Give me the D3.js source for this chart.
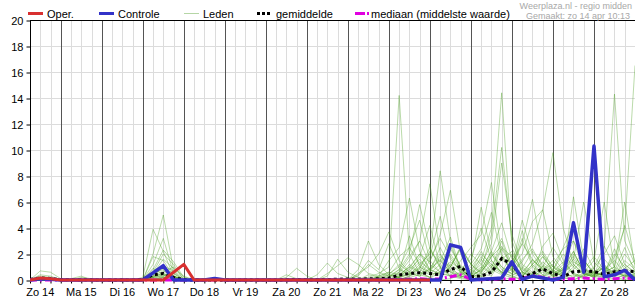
<!DOCTYPE html>
<head>
    <meta charset="UTF-8" />
    <style>
        body {
            margin: 0;
            padding: 0;
            background: #fff;
        }

        svg {
            display: block;
            font-family: Arial, "Liberation Sans", sans-serif;
        }

        .grid {
            stroke: #dcdcdc;
            stroke-width: 1px;
        }

        .dayline {
            stroke: #555;
            stroke-width: 1px;
        }

        .lid {
            fill: none;
            stroke: #4a9e1f;
            stroke-opacity: 0.38;
            stroke-width: 1px;
        }
    </style>
    <title>Neerslag pluim</title>
</head>

<svg width="635" height="300"></svg>
<script src="https://d3js.org/d3.v7.min.js"></script>

<script>
    // dag-labels onder de as
    var dagen = ["Zo 14", "Ma 15", "Di 16", "Wo 17", "Do 18", "Vr 19", "Za 20",
        "Zo 21", "Ma 22", "Di 23", "Wo 24", "Do 25", "Vr 26", "Za 27", "Zo 28"]
    var yTicks = [0, 2, 4, 6, 8, 10, 12, 14, 16, 18, 20]

    // operationele run (loopt t/m wo 24 00u), 6-uurlijks vanaf zo 14 06u
    var oper = [0, 0.15, 0.1, 0, 0, 0, 0, 0, 0, 0, 0, 0, 0, 0, 0.6, 1.2, 0, 0, 0, 0,
        0, 0, 0, 0, 0, 0, 0, 0, 0, 0, 0, 0, 0, 0, 0, 0, 0, 0, 0, 0]

    var controle = [0, 0.1, 0.05, 0, 0, 0, 0, 0, 0, 0, 0, 0, 0.55, 1.1, 0, 0, 0, 0, 0.12, 0,
        0, 0, 0, 0, 0, 0, 0, 0, 0, 0, 0, 0, 0, 0, 0, 0, 0, 0, 0, 0,
        0, 2.7, 2.5, 0, 0.05, 0.1, 0.15, 1.4, 0.05, 0.3, 0.15, 0, 0.2, 4.4, 0.6, 10.3, 0.25, 0.4, 0.75, 0]

    var gemiddelde = [0.05, 0.15, 0.12, 0.02, 0.01, 0.02, 0.01, 0, 0, 0.01, 0, 0.05, 0.4, 0.5, 0.2, 0.03, 0, 0, 0, 0,
        0, 0, 0, 0, 0, 0.02, 0.04, 0.01, 0.02, 0.04, 0.06, 0.08, 0.06, 0.1, 0.1, 0.15, 0.38, 0.5, 0.56, 0.5,
        0.4, 0.8, 1.05, 0.25, 0.3, 0.6, 1.65, 1.2, 0.2, 0.5, 0.85, 0.5, 0.25, 0.64, 0.7, 0.64, 0.45, 0.64, 0.7, 0.64]

    var mediaan = [0, 0, 0, 0, 0, 0, 0, 0, 0, 0, 0, 0, 0, 0, 0, 0, 0, 0, 0, 0,
        0, 0, 0, 0, 0, 0, 0, 0, 0, 0, 0, 0, 0, 0, 0, 0.02, 0.05, 0.05, 0.1, 0.05,
        0.1, 0.25, 0.4, 0.05, 0.02, 0.05, 0.1, 0.05, 0.1, 0.35, 0.2, 0.1, 0.05, 0.1, 0.15, 0.1, 0.05, 0.1, 0.15, 0.1]

    // ensemble leden
    var leden = [
        [0, 0.7, 0.6, 0.1, 0, 0, 0, 0, 0, 0, 0, 0, 2.0, 5.0, 0.8, 0.1, 0, 0, 0, 0, 0, 0, 0, 0, 0, 0, 0, 0, 0, 0, 0, 0, 0, 0.2, 0.5, 1.0, 14.2, 2.0, 0.5, 0.8, 1.5, 0.6, 0.2, 0, 0.4, 1.2, 0.6, 0.3, 0, 0.5, 1.8, 0.8, 0.2, 0, 0.4, 0.6, 1.2, 0.3, 0, 0.5],
        [0, 0.4, 0.3, 0, 0, 0, 0, 0, 0, 0, 0, 0.2, 3.9, 2.2, 0.3, 0, 0, 0, 0, 0, 0, 0, 0, 0, 0, 0, 0, 0, 0, 0, 0, 0, 0, 0, 0.3, 0.6, 1.8, 2.5, 1.2, 2.0, 8.4, 3.0, 0.5, 0.2, 0.8, 2.2, 1.0, 0.4, 0.6, 1.5, 0.9, 0.3, 0.8, 2.2, 0.6, 0.2, 0, 0.4, 1.5, 0.8],
        [0, 0.2, 0.1, 0, 0, 0, 0, 0, 0, 0, 0, 0, 1.2, 3.2, 0.5, 0, 0, 0, 0, 0, 0, 0, 0, 0, 0, 0, 0, 0, 0, 0, 0, 0, 0, 0, 0, 0.2, 0.5, 1.5, 3.0, 1.2, 0.6, 2.0, 0.8, 0.3, 1.5, 4.0, 14.4, 2.5, 0.6, 0.2, 0.8, 1.5, 0.4, 0, 0.3, 0.7, 0.2, 0.6, 0.3, 0.2],
        [0, 0.1, 0.2, 0, 0, 0, 0, 0, 0, 0, 0, 0, 0.8, 2.3, 1.4, 0.2, 0, 0, 0, 0, 0, 0, 0, 0, 0, 0, 0, 0, 0, 0, 0, 0, 0, 0, 0, 0, 0.3, 0.8, 1.6, 0.7, 2.5, 1.0, 0.3, 0.1, 0.6, 1.8, 3.2, 1.1, 2.0, 4.5, 5.4, 9.8, 4.0, 1.2, 0.5, 0.2, 0.8, 1.5, 0.6, 0.3],
        [0, 0, 0, 0, 0, 0.2, 0.1, 0, 0, 0, 0, 0, 1.8, 1.5, 0.3, 0, 0, 0, 0, 0, 0, 0, 0, 0, 0, 0, 0, 0, 0, 0, 0, 0, 0, 0, 0, 0.4, 1.2, 0.6, 0.3, 1.5, 3.2, 1.8, 0.6, 0.4, 1.0, 0.5, 1.6, 0.8, 0.3, 1.2, 2.2, 1.0, 0.4, 2.0, 0.8, 0.3, 2.5, 14.3, 3.0, 1.2],
        [0, 0.2, 0.1, 0, 0, 0, 0, 0, 0, 0, 0, 0, 0.6, 2.0, 1.2, 0, 0, 0, 0, 0, 0, 0, 0, 0, 0, 0.4, 0.1, 0, 0, 0, 0, 0, 0, 0, 0, 0, 0.4, 1.0, 0.6, 0.2, 0.9, 2.4, 1.1, 0.6, 2.2, 1.0, 0.5, 1.4, 2.8, 1.6, 0.7, 0.4, 1.2, 3.0, 1.5, 0.6, 0.4, 1.8, 4.0, 16.5],
        [0, 0, 0, 0, 0, 0, 0, 0, 0, 0, 0, 0, 0.5, 1.6, 0.9, 0.3, 0, 0, 0, 0, 0, 0, 0, 0, 0, 0.2, 0.9, 0.3, 0, 0, 0, 0, 0.8, 3.0, 1.2, 0.4, 0.2, 0.9, 2.0, 1.4, 3.5, 6.9, 2.0, 0.4, 0.2, 1.0, 2.5, 1.8, 0.6, 0.3, 1.0, 2.5, 1.2, 0.4, 0.2, 0.6, 1.0, 0.4, 0.8, 0.2],
        [0, 0, 0, 0, 0, 0, 0, 0, 0, 0, 0, 0, 0.3, 1.1, 0.7, 0, 0, 0, 0, 0, 0, 0, 0, 0, 0, 0, 0, 0, 0.4, 1.3, 0.5, 0.2, 0, 0, 0.3, 1.5, 2.5, 6.3, 2.2, 0.8, 0.5, 1.2, 0.6, 0.2, 0.9, 3.5, 10.2, 3.0, 1.0, 0.5, 0.3, 0.8, 2.0, 1.0, 0.4, 0.3, 0.6, 2.0, 1.0, 0.4],
        [0, 0, 0, 0, 0.1, 0.3, 0, 0, 0, 0, 0, 0, 0.4, 0.9, 0.5, 0, 0, 0, 0, 0, 0, 0, 0, 0, 0, 0, 0, 0, 0, 0.3, 1.6, 0.6, 0.2, 0, 0, 0.3, 0.8, 2.0, 5.8, 2.4, 1.0, 0.4, 0.2, 0.8, 1.6, 0.6, 2.4, 1.0, 2.8, 6.2, 2.0, 0.6, 0.3, 1.0, 2.4, 0.8, 0.2, 0.5, 1.2, 0.6],
        [0, 0, 0, 0, 0, 0, 0, 0, 0, 0, 0, 0, 0.2, 0.6, 1.0, 0.2, 0, 0, 0, 0, 0, 0, 0, 0, 0, 0, 0, 0, 0, 0, 0, 0, 0.3, 1.2, 0.6, 0.3, 0.6, 1.8, 3.0, 7.4, 2.0, 0.8, 0.4, 1.2, 0.6, 2.0, 0.8, 0.5, 1.4, 2.8, 5.4, 1.8, 0.7, 6.4, 1.5, 0.5, 0.3, 0.8, 0.4, 0.2],
        [0, 0, 0, 0, 0, 0, 0, 0, 0, 0, 0, 0, 0.9, 0.4, 0.2, 0, 0, 0, 0, 0, 0, 0, 0, 0, 0, 0, 0, 0, 0, 0, 0, 0, 0.5, 1.0, 2.0, 3.7, 1.5, 0.6, 1.8, 4.2, 1.0, 0.3, 0.6, 2.0, 1.2, 0.5, 1.8, 0.9, 0.4, 1.6, 0.8, 0.3, 1.0, 2.2, 0.6, 1.5, 6.0, 0.8, 0.3, 0.5],
        [0, 0, 0, 0, 0, 0, 0, 0, 0, 0, 0, 0, 0.3, 0.7, 0.2, 0, 0, 0, 0, 0, 0, 0, 0, 0, 0, 0, 0, 0, 0, 0, 0, 0, 0, 0, 0, 0, 0.2, 0.5, 1.0, 0.6, 1.8, 1.0, 2.6, 1.2, 2.4, 5.2, 1.8, 0.7, 0.3, 1.2, 2.0, 1.0, 0.5, 1.6, 6.0, 1.4, 0.6, 1.0, 6.0, 1.0],
        [0, 0.3, 0.2, 0, 0, 0, 0, 0, 0, 0, 0, 0, 0.2, 0.5, 0.2, 0, 0, 0, 0, 0, 0, 0, 0, 0, 0, 0, 0, 0, 0, 0, 0, 0, 0, 0, 0.2, 0.5, 1.0, 2.5, 4.6, 1.5, 0.6, 0.3, 1.5, 2.5, 3.5, 7.5, 2.0, 0.6, 0.3, 1.0, 1.8, 0.7, 0.4, 1.4, 0.9, 0.3, 1.6, 0.7, 2.5, 0.6],
        [0, 0, 0, 0, 0, 0, 0, 0, 0, 0.1, 0, 0, 0, 0.3, 0.6, 0, 0, 0, 0, 0, 0, 0, 0, 0, 0, 0, 0, 0, 0, 0, 0, 0, 0, 0, 0, 0.2, 0.8, 0.4, 0.9, 2.2, 1.4, 3.3, 0.8, 0.3, 0.8, 2.2, 4.4, 1.6, 0.8, 0.4, 2.6, 3.6, 1.5, 0.5, 0.3, 0.9, 2.0, 3.4, 1.2, 0.5],
        [0, 0, 0, 0, 0, 0, 0, 0, 0, 0, 0, 0, 0.1, 0.4, 0.3, 0, 0, 0, 0, 0, 0, 0, 0, 0, 0, 0, 0, 0, 0, 0, 0, 0, 0, 0.4, 0.2, 0.4, 0.2, 1.2, 0.6, 1.8, 4.9, 1.6, 0.7, 0.4, 1.8, 0.9, 3.0, 0.8, 3.8, 1.2, 0.4, 1.1, 0.6, 0.2, 0.8, 1.8, 0.8, 0.3, 0.9, 1.5],
        [0, 0, 0, 0, 0, 0, 0, 0, 0, 0, 0, 0, 0, 0.2, 0.1, 0, 0, 0, 0, 0, 0, 0, 0, 0, 0, 0, 0, 0, 0, 0, 0, 0, 0, 0, 0, 0, 0.6, 3.4, 1.0, 0.5, 1.2, 2.6, 1.0, 0.4, 0.7, 1.5, 0.6, 2.0, 0.9, 0.4, 1.4, 0.7, 2.5, 4.4, 1.0, 0.4, 1.0, 0.6, 0.3, 0.7],
        [0, 0, 0, 0, 0, 0, 0, 0, 0, 0, 0, 0, 0.2, 0.4, 0.1, 0, 0, 0, 0, 0, 0, 0, 0, 0, 0, 0, 0, 0, 0, 0, 0, 0, 0, 0, 0, 0, 0.3, 0.6, 1.4, 0.8, 0.4, 1.0, 2.4, 1.2, 5.6, 2.0, 1.0, 0.5, 1.6, 2.4, 1.0, 0.4, 0.8, 1.6, 0.5, 0.2, 0.6, 1.0, 4.2, 1.4],
        [0, 0.1, 0, 0, 0, 0, 0, 0, 0, 0, 0, 0, 0, 0.1, 0, 0, 0, 0, 0, 0, 0, 0, 0, 0, 0, 0, 0, 0, 0, 0, 0, 0, 0, 0, 0, 0, 0.1, 0.2, 0.4, 0.2, 0.5, 0.3, 0.1, 0, 0.3, 0.8, 0.4, 0.2, 0.1, 0.4, 0.6, 0.3, 0.1, 0.2, 0.5, 0.3, 0.2, 0.1, 0.4, 0.2],
        [0, 0, 0, 0, 0, 0, 0, 0, 0, 0, 0, 0, 0.5, 0.8, 0.3, 0, 0, 0, 0, 0, 0, 0, 0, 0, 0, 0, 0, 0, 0, 0, 0, 0, 0, 0, 0, 0, 0.2, 0.4, 0.9, 2.5, 0.9, 0.3, 0.2, 0.5, 1.2, 2.8, 9.0, 3.5, 1.2, 0.6, 0.3, 0.6, 1.4, 0.5, 0.2, 0.5, 0.9, 0.4, 0.2, 0.3],
        [0, 0, 0, 0, 0, 0, 0, 0, 0, 0, 0, 0, 0.3, 0.5, 0.2, 0, 0, 0, 0, 0, 0, 0, 0, 0, 0, 0, 0, 0, 0, 0.5, 1.1, 1.7, 1.2, 0.5, 0.3, 0.6, 0.4, 1.0, 2.0, 0.8, 1.6, 0.6, 0.3, 1.0, 2.0, 1.2, 0.6, 0.3, 0.9, 2.2, 1.2, 0.6, 0.3, 0.8, 1.6, 0.4, 0.2, 0.6, 0.3, 0.2],
        [0, 0, 0, 0, 0, 0, 0, 0, 0, 0, 0, 0, 0.1, 0.2, 0, 0, 0, 0, 0, 0, 0, 0, 0, 0, 0, 0, 0, 0, 0, 0, 0, 0, 0, 0, 0, 0, 0.2, 0.5, 0.3, 0.9, 2.0, 0.7, 0.3, 0.2, 0.5, 1.8, 2.6, 1.0, 4.6, 2.0, 0.8, 1.2, 2.4, 3.0, 0.9, 0.4, 0.5, 2.4, 0.7, 0.3],
        [0, 0, 0, 0, 0, 0, 0, 0, 0, 0, 0, 0, 0, 0.2, 0.1, 0, 0, 0, 0, 0, 0, 0, 0, 0, 0, 0, 0.1, 0, 0, 0, 0, 0, 0.4, 1.5, 0.8, 2.8, 0.9, 0.4, 1.2, 0.6, 0.3, 1.0, 2.5, 1.2, 0.5, 0.3, 1.6, 2.2, 0.6, 0.3, 1.1, 0.5, 0.9, 1.8, 0.6, 0.3, 1.1, 0.5, 2.0, 0.9],
        [0, 0, 0, 0, 0, 0, 0, 0, 0, 0, 0, 0, 0.2, 0.3, 0.2, 0, 0, 0, 0, 0, 0, 0, 0, 0, 0, 0, 0, 0, 0, 0, 0, 0, 0, 0, 0, 0, 0, 0.3, 0.8, 0.4, 0.6, 1.4, 0.8, 1.6, 4.0, 1.5, 0.5, 0.8, 3.2, 1.0, 0.4, 0.2, 0.6, 1.2, 0.4, 1.0, 2.6, 1.0, 0.5, 0.2],
        [0, 0, 0, 0, 0, 0, 0, 0, 0, 0, 0, 0, 0, 0, 0, 0, 0, 0, 0, 0, 0, 0, 0, 0, 0, 0, 0, 0, 0, 0, 0, 0, 0, 0, 0.2, 0.1, 0, 0.3, 0.6, 0.2, 0, 0.1, 0.4, 0.8, 0.3, 0.1, 0, 0.2, 0.5, 0.2, 0.1, 0, 0.2, 0.4, 0.1, 0, 0, 0, 0, 0]
    ]

    var svg = d3.select("svg"),
        pLeft = 30, pRight = 635, pTop = 20, pBottom = 280

    var start = new Date(2024, 3, 14, 6),
        eind = new Date(2024, 3, 29, 0)
    var tijden = d3.timeHour.every(6).range(start, d3.timeHour.offset(eind, 1))

    var x = d3.scaleTime().domain([start, eind]).range([pLeft, pRight])
    var y = d3.scaleLinear().domain([0, 20]).range([pBottom, pTop])

    // raster
    var grid = svg.append("g")
    grid.selectAll(".hgrid")
        .data(yTicks.filter(d => d > 0 && d < 20))
        .enter().append("line")
        .attr("class", "grid")
        .attr("x1", pLeft).attr("x2", pRight)
        .attr("y1", d => y(d) + 0.5).attr("y2", d => y(d) + 0.5)

    grid.selectAll(".vgrid")
        .data(tijden.slice(1))
        .enter().append("line")
        .attr("class", d => d.getHours() === 0 ? "dayline" : "grid")
        .attr("x1", d => Math.round(x(d)) + 0.5).attr("x2", d => Math.round(x(d)) + 0.5)
        .attr("y1", pTop).attr("y2", pBottom)

    // assen
    var yAxis = d3.axisLeft(y).tickValues(yTicks).tickSize(4).tickPadding(3)
    var gy = svg.append("g").attr("transform", "translate(" + (pLeft + 0.5) + ",0.5)").call(yAxis)
    gy.select(".domain").remove()
    gy.selectAll("text").attr("font-size", 11).attr("font-family", "Arial, 'Liberation Sans', sans-serif").attr("fill", "#000")

    var xAxis = d3.axisBottom(x).tickValues(tijden).tickSize(3).tickFormat("")
    var gx = svg.append("g").attr("transform", "translate(0," + (pBottom + 0.5) + ")").call(xAxis)
    gx.select(".domain").remove()

    svg.append("line").attr("x1", pLeft + 0.5).attr("x2", pLeft + 0.5).attr("y1", pTop).attr("y2", pBottom + 1).attr("stroke", "#000")
    svg.append("line").attr("x1", pLeft).attr("x2", pRight).attr("y1", pTop + 0.5).attr("y2", pTop + 0.5).attr("stroke", "#000")

    // dag-labels op 12u
    var middagen = d3.timeDay.range(new Date(2024, 3, 14), new Date(2024, 3, 29)).map(d => d3.timeHour.offset(d, 12))
    svg.append("g").selectAll("text")
        .data(dagen)
        .enter().append("text")
        .attr("x", (d, i) => x(middagen[i]))
        .attr("y", 296)
        .attr("text-anchor", "middle")
        .attr("font-size", 11)
        .text(d => d)

    svg.append("line").attr("x1", pLeft).attr("x2", pRight).attr("y1", pBottom + 0.5).attr("y2", pBottom + 0.5).attr("stroke", "#000")

    // lijnen
    svg.append("clipPath").attr("id", "clip")
        .append("rect").attr("x", pLeft).attr("y", pTop).attr("width", pRight - pLeft).attr("height", pBottom - pTop + 4)
    var plot = svg.append("g").attr("clip-path", "url(#clip)")

    var lijn = d3.line()
        .x((d, i) => x(tijden[i]))
        .y(d => y(d))

    plot.selectAll(".lid")
        .data(leden)
        .enter().append("path")
        .attr("class", "lid")
        .attr("d", lijn)

    plot.append("path").datum(mediaan)
        .attr("d", lijn).attr("fill", "none")
        .attr("stroke", "#e000e0").attr("stroke-width", 3)
        .attr("stroke-dasharray", "7,3,2,3")

    plot.append("path").datum(gemiddelde)
        .attr("d", lijn).attr("fill", "none")
        .attr("stroke", "#000").attr("stroke-width", 3)
        .attr("stroke-dasharray", "3,3")

    plot.append("path").datum(controle)
        .attr("d", lijn).attr("fill", "none")
        .attr("stroke", "#3232c8").attr("stroke-width", 3.5)
        .attr("stroke-linejoin", "round")

    plot.append("path").datum(oper)
        .attr("d", lijn).attr("fill", "none")
        .attr("stroke", "#d83030").attr("stroke-width", 3)
        .attr("stroke-linejoin", "round")

    // legenda
    var legenda = [
        { naam: "Oper.", x: 28, kleur: "#d83030", breedte: 3, dash: null },
        { naam: "Controle", x: 99, kleur: "#3232c8", breedte: 3, dash: null },
        { naam: "Leden", x: 184, kleur: "#b5d6a5", breedte: 1, dash: null },
        { naam: "gemiddelde", x: 257, kleur: "#000", breedte: 3, dash: "3,2" },
        { naam: "mediaan (middelste waarde)", x: 355, kleur: "#e000e0", breedte: 3, dash: "10,2,2,20" }
    ]
    var lg = svg.append("g").selectAll("g").data(legenda).enter().append("g")
    lg.append("line")
        .attr("x1", d => d.x).attr("x2", d => d.x + 15)
        .attr("y1", 13.5).attr("y2", 13.5)
        .attr("stroke", d => d.kleur).attr("stroke-width", d => d.breedte)
        .attr("stroke-dasharray", d => d.dash)
    lg.append("text")
        .attr("x", d => d.x + (d.naam[0] === "m" ? 16 : 19))
        .attr("y", 17.5)
        .attr("font-size", 11)
        .text(d => d.naam)

    svg.append("text").attr("x", 632).attr("y", 8.5).attr("text-anchor", "end")
        .attr("font-size", 9).attr("fill", "#a8a8a8").text("Weerplaza.nl - regio midden")
    svg.append("text").attr("x", 630).attr("y", 18.5).attr("text-anchor", "end")
        .attr("font-size", 9).attr("fill", "#a8a8a8").text("Gemaakt: zo 14 apr 10:13")
</script>
